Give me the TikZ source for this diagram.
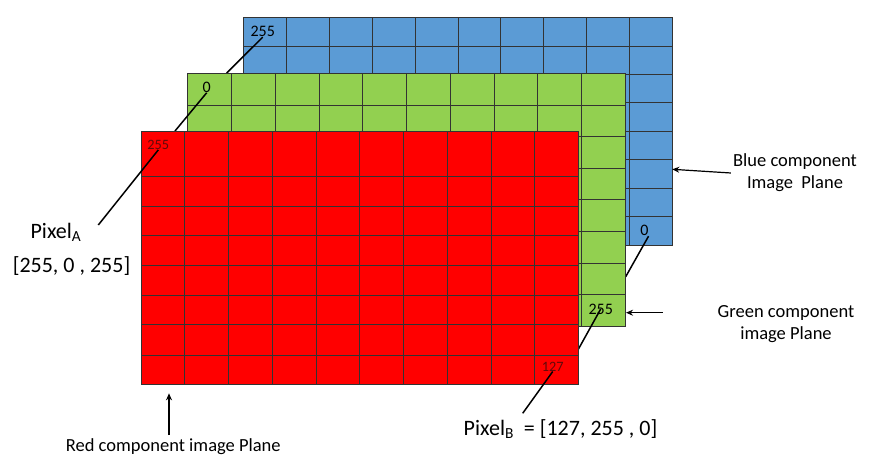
\documentclass[tikz,border=0pt]{standalone}
\usepackage{fontspec}
\setmainfont{Carlito}
\usetikzlibrary{arrows.meta, positioning}
\definecolor{planeblue}{RGB}{91, 155, 213}
\definecolor{planegreen}{RGB}{146, 208, 80}
\definecolor{planered}{RGB}{255, 0, 0}
\definecolor{rednumber}{RGB}{95, 10, 10}

\begin{document}
\begin{tikzpicture}[x=1pt, y=-1pt,
    plane/.style={draw=black!80, line width=0.7pt},
    cell/.style={draw=black!80, line width=0.5pt},
    leader/.style={black, line width=1.5pt},
    arrow/.style={-{Stealth[length=7pt, width=6pt]}, line width=1.2pt, black},
    num/.style={inner sep=0pt, font=\fontsize{16}{16}\selectfont},
    rednum/.style={inner sep=0pt, text=rednumber, font=\fontsize{14.3}{14.3}\selectfont},
    tag/.style={align=center, inner sep=2pt, font=\fontsize{18.5}{21.7}\selectfont},
    pixtag/.style={inner sep=0pt, font=\fontsize{22}{26}\selectfont}
]
\useasboundingbox (0,0) rectangle (896,463);
% blue plane
\fill[planeblue] (243.3,17.3) rectangle (672.3,244.9);
\foreach \i in {1,...,9} \draw[cell] (243.3+\i*42.9,17.3) -- (243.3+\i*42.9,244.9);
\foreach \j in {1,...,7} \draw[cell] (243.3,17.3+\j*28.45) -- (672.3,17.3+\j*28.45);
\draw[plane] (243.3,17.3) rectangle (672.3,244.9);
\node (b1) [num] at (262.7,31.7) {255};
\node (b2) [num] at (644.3,230.7) {0};
\coordinate (b1end) at (226.7,73);
\coordinate (b2end) at (625.7,276.7);
\draw[leader] (b1.south) -- (b1end);
\draw[leader] (b2.south east) -- (b2end);
% green plane
\fill[planegreen] (187.7,73.3) rectangle (625,326);
\foreach \i in {1,...,9} \draw[cell] (187.7+\i*43.73,73.3) -- (187.7+\i*43.73,326);
\foreach \j in {1,...,7} \draw[cell] (187.7,73.3+\j*31.59) -- (625,73.3+\j*31.59);
\draw[plane] (187.7,73.3) rectangle (625,326);
\node (g1) [num] at (206.7,87.3) {0};
\node (g2) [num] at (600.7,309) {255};
\coordinate (g1end) at (175,131);
\coordinate (g2end) at (578.3,349.3);
\draw[leader] (g1.south) -- (g1end);
\draw[leader] (g2.center) -- (g2end);
% red plane
\fill[planered] (141,131) rectangle (578.3,384.3);
\foreach \i in {1,...,9} \draw[cell] (141+\i*43.73,131) -- (141+\i*43.73,384.3);
\foreach \y in {176.7,206,235.7,265.3,295.7,324.7,355} \draw[cell] (141,\y) -- (578.3,\y);
\draw[plane] (141,131) rectangle (578.3,384.3);
\node (r1) [rednum] at (158.3,145) {255};
\node (r2) [rednum] at (552.7,366.7) {127};
\coordinate (r1end) at (98.3,225);
\coordinate (r2end) at (522.7,413.3);
\draw[leader] (r1.south) -- (r1end);
\draw[leader] (r2.south) -- (r2end);
% pixel labels
\node (pA) [pixtag, anchor=base] at (56,238.3) {Pixel\textsubscript{A}};
\node (pAval) [pixtag, anchor=base] at (71.5,272.5) {[255, 0 , 255]};
\node (pB) [pixtag, anchor=base] at (560.5,435) {Pixel\textsubscript{B}\ \ = [127, 255 , 0]};
% plane labels
\node (blab) [tag] at (795,173) {Blue component\\Image\ \ Plane};
\node (glab) [tag] at (786,324) {Green component\\image Plane};
\node (rlab) [tag, anchor=base] at (173.3,451) {Red component image Plane};
\coordinate (bhead) at (672.3,169.3);
\coordinate (gtail) at (662.7,312.7);
\coordinate (ghead) at (626,312.7);
\coordinate (rtail) at (169,435);
\coordinate (rhead) at (169,393.3);
\draw[arrow] (blab.west) -- (bhead);
\draw[arrow] (gtail) -- (ghead);
\draw[arrow] (rtail) -- (rhead);
\end{tikzpicture}
\end{document}
